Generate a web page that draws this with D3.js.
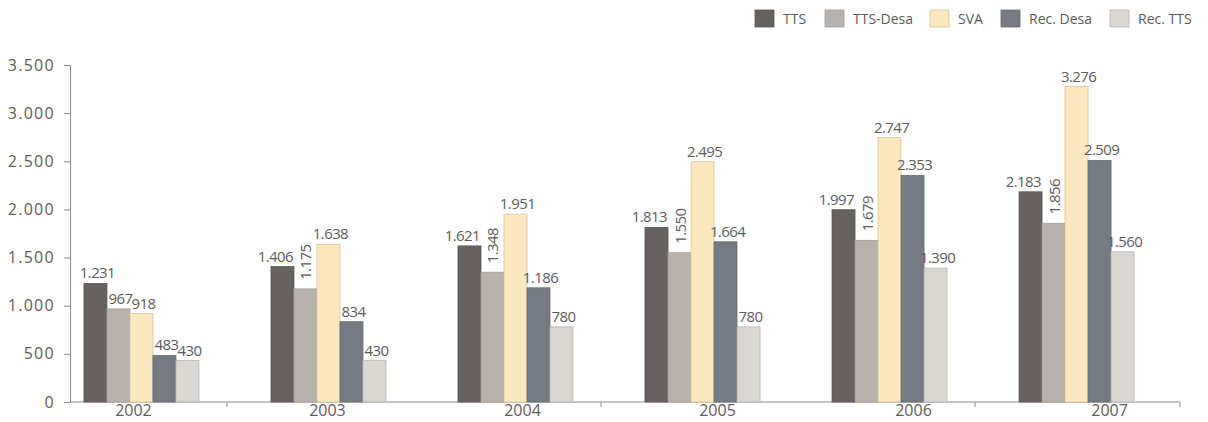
<!DOCTYPE html>
<html>
<head>
<meta charset="utf-8">
<script src="https://cdnjs.cloudflare.com/ajax/libs/d3/7.8.5/d3.min.js"></script>
<style>
  body { margin: 0; background: #fff; }
  svg text { font-family: "Open Sans", "DejaVu Sans", sans-serif; fill: #5e5b59; }
</style>
</head>
<body>
<div id="chart"></div>
<script>
// data
const years = ["2002", "2003", "2004", "2005", "2006", "2007"];
const seriesNames = ["TTS", "TTS-Desa", "SVA", "Rec. Desa", "Rec. TTS"];
const tts      = [1231, 1406, 1621, 1813, 1997, 2183];
const ttsDesa  = [967, 1175, 1348, 1550, 1679, 1856];
const sva      = [918, 1638, 1951, 2495, 2747, 3276];
const recDesa  = [483, 834, 1186, 1664, 2353, 2509];
const recTts   = [430, 430, 780, 780, 1390, 1560];
const yTicks   = [0, 500, 1000, 1500, 2000, 2500, 3000, 3500];

const values = [tts, ttsDesa, sva, recDesa, recTts];
const colors = ["#676260", "#b7b2ae", "#fde7bd", "#767a82", "#dad7d3"];
const strokes = ["#5a5654", "#a29d99", "#d9c49a", "#686c73", "#b9b5b1"];

const width = 1208, height = 422;

const svg = d3.select("#chart").append("svg")
    .attr("width", width)
    .attr("height", height);

const fmt = v => d3.format(",")(v).replace(/,/g, ".");

// scales
let y = d3.scaleLinear().domain([0, 3500]).range([402, 65]);

let x0 = d3.scaleBand()
    .domain(years)
    .range([74.6, 1143.4])
    .paddingInner(0.385)
    .paddingOuter(0.05);

let x1 = d3.scaleBand()
    .domain(seriesNames)
    .range([0, x0.bandwidth()])
    .padding(0);

// y axis
let yAxis = svg.append("g")
    .attr("transform", "translate(70,0)")
    .call(d3.axisLeft(y).tickValues(yTicks).tickSize(6).tickFormat(fmt));
yAxis.select(".domain").attr("stroke", "#8d8a88");
yAxis.selectAll(".tick line").attr("stroke", "#8d8a88");
yAxis.selectAll(".tick text")
    .attr("x", -15)
    .style("font-size", "16px")
    .style("letter-spacing", "1.3px")
    .style("fill", "#5e5b59");

// x axis line + tick marks between pairs of years
svg.append("line")
    .attr("x1", 70).attr("x2", 1180)
    .attr("y1", y(0)).attr("y2", y(0))
    .attr("stroke", "#8d8a88");

const sepTicks = [[0, 1], [2, 3], [4, 5]];
svg.selectAll(".sep")
    .data(sepTicks)
    .enter().append("line")
    .attr("x1", d => (x0(years[d[0]]) + x0.bandwidth() + x0(years[d[1]])) / 2 - 8)
    .attr("x2", d => (x0(years[d[0]]) + x0.bandwidth() + x0(years[d[1]])) / 2 - 8)
    .attr("y1", y(0)).attr("y2", y(0) + 5)
    .attr("stroke", "#8d8a88");
svg.append("line")
    .attr("x1", 1180).attr("x2", 1180)
    .attr("y1", y(0)).attr("y2", y(0) + 5)
    .attr("stroke", "#8d8a88");

// year labels drift right of each group center
const labelShift = [-8, -1, 7, 15, 24, 33];
svg.selectAll(".year")
    .data(years)
    .enter().append("text")
    .attr("x", (d, i) => x0(d) + x0.bandwidth() / 2 + labelShift[i])
    .attr("y", 416)
    .attr("text-anchor", "middle")
    .style("font-size", "16px")
    .text(d => d);

// bars
const flat = [];
years.forEach((yr, i) => {
    seriesNames.forEach((s, j) => {
        flat.push({year: yr, series: s, si: j, value: values[j][i], yi: i});
    });
});

svg.append("g")
    .selectAll("rect")
    .data(flat)
    .enter().append("rect")
    .attr("x", d => x0(d.year) + x1(d.series))
    .attr("y", d => y(d.value))
    .attr("width", x1.bandwidth())
    .attr("height", d => y(0) - y(d.value))
    .attr("fill", d => colors[d.si])
    .attr("stroke", d => strokes[d.si])
    .attr("stroke-width", 0.8);

// value labels; TTS-Desa ones are rotated except in 2002,
// TTS ones end at the bar's right edge from 2003 on
let rotated = d => d.si == 1 && d.yi > 0;
let leftSide = d => d.si == 0 && d.yi > 0;
svg.append("g")
    .selectAll("text")
    .data(flat)
    .enter().append("text")
    .style("font-size", "15px")
    .style("letter-spacing", "-0.6px")
    .attr("transform", d => {
        let bx = x0(d.year) + x1(d.series);
        let cx = bx + x1.bandwidth() / 2;
        if (rotated(d)) {
            return "translate(" + (cx + 6) + "," + (y(d.value) - 9) + ") rotate(-90)";
        }
        if (leftSide(d)) {
            return "translate(" + (bx + x1.bandwidth() - 1) + "," + (y(d.value) - 5) + ")";
        }
        return "translate(" + (cx + 2) + "," + (y(d.value) - 5) + ")";
    })
    .attr("text-anchor", d => rotated(d) ? "start" : (leftSide(d) ? "end" : "middle"))
    .text(d => fmt(d.value));

// legend
svg.append("clipPath").attr("id", "legclip")
    .append("rect").attr("x", 0).attr("y", 0).attr("width", 1193).attr("height", 40);

const legX = [755, 825, 930, 1001, 1110];
let leg = svg.append("g").attr("clip-path", "url(#legclip)")
    .selectAll("g")
    .data(seriesNames)
    .enter().append("g")
    .attr("transform", (d, i) => "translate(" + legX[i] + ",10)");
leg.append("rect")
    .attr("width", 19).attr("height", 17)
    .attr("fill", (d, i) => colors[i])
    .attr("stroke", (d, i) => strokes[i])
    .attr("stroke-width", 0.8);
leg.append("text")
    .attr("x", 28).attr("y", 13.5)
    .style("font-size", "14px")
    .text(d => d);
</script>
</body>
</html>
